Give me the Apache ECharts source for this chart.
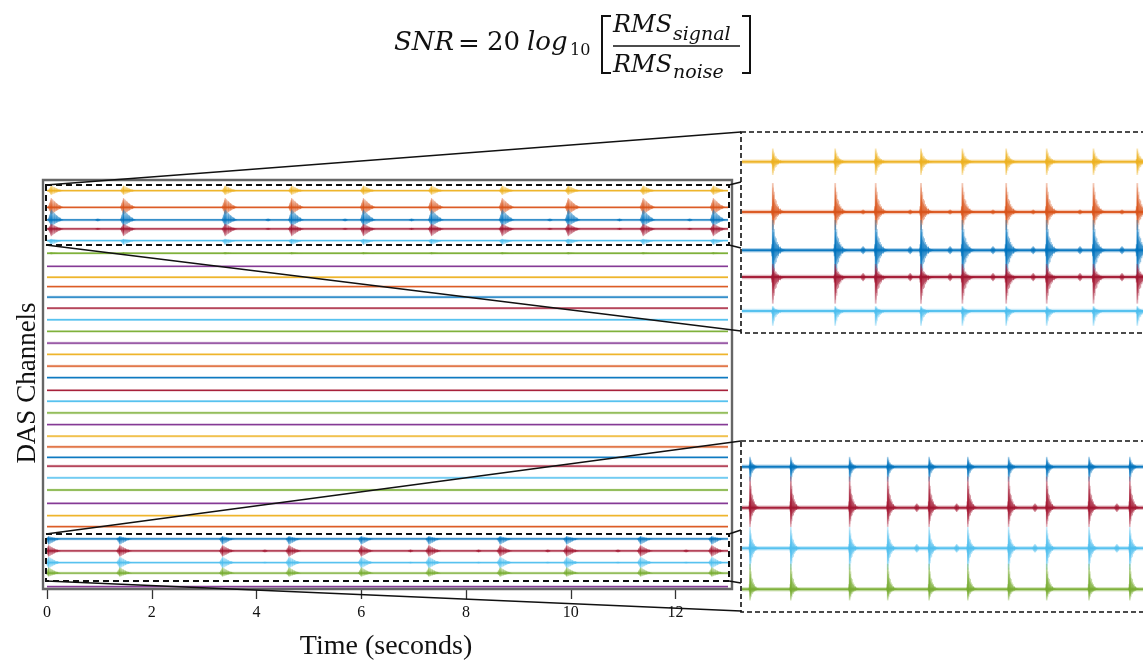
<!DOCTYPE html>
<html><head><meta charset="utf-8">
<script src="https://cdn.jsdelivr.net/npm/echarts@6/dist/echarts.min.js"></script>
<style>html,body{margin:0;padding:0;background:#fff}#c{width:1143px;height:664px}</style>
</head><body><div id="c"></div>
<script>
// ================= DATA =================
// x-axis tick labels (seconds)
const timeTickLabels = [0, 2, 4, 6, 8, 10, 12];
// baseline offset of each of the 35 DAS channels (channel units, top = 0)
const channelOffsets = [0, 1.43, 2.51, 3.28, 4.28, 5.37, 6.49, 7.43, 8.23, 9.14, 10.09, 11.08, 12.08, 13.09,
  14.05, 15.06, 16.05, 17.14, 18.08, 19.08, 20.08, 21.08, 22.0, 22.9, 23.65, 24.65, 25.7, 26.85, 27.9,
  28.84, 29.9, 30.93, 31.93, 32.84, 34.0];
// channels inside the two dashed selections
const topGroupChannels = [0, 1, 2, 3, 4];
const bottomGroupChannels = [30, 31, 32, 33];
// event (burst) onset times in the main panel (s)
const topEventTimes = [0.08, 1.46, 3.40, 4.67, 6.04, 7.34, 8.69, 9.95, 11.38, 12.72];
const bottomEventTimes = [0.03, 1.39, 3.35, 4.62, 6.00, 7.29, 8.65, 9.92, 11.33, 12.69];
// small blips between the events (s)
const topMinorTimes = [0.97, 4.22, 5.69, 6.96, 9.6, 10.93, 12.27];
const bottomMinorTimes = [4.16, 6.94, 8.24, 9.56, 10.9, 12.2];
// burst amplitudes above / below the baseline (channel units), per channel of each group
const topGroupUp = [0.45, 0.8, 0.9, 0.45, 0.15];
const topGroupDown = [0.36, 0.62, 0.55, 0.62, 0.38];
const bottomGroupUp = [0.25, 0.5, 0.5, 0.5];
const bottomGroupDown = [0.5, 0.5, 0.5, 0.3];
const minorAmp = 0.13;
const weakChannel = 5, weakAmp = 0.1;
// zoomed inset (top): trace offsets (inset units), amplitudes and event times
const topInsetOffsets = [0.74, 1.99, 2.94, 3.61, 4.45];
const topInsetUp = [0.33, 0.72, 0.75, 0.33, 0.12];
const topInsetDown = [0.33, 0.45, 0.75, 0.66, 0.37];
const topInsetEventTimes = [0.79, 2.87, 4.22, 5.73, 7.11, 8.57, 9.92, 11.48, 12.94];
const topInsetMinorTimes = [3.8, 5.37, 6.7, 8.13, 9.47, 11.03, 12.43];
// zoomed inset (bottom)
const bottomInsetOffsets = [0.6, 1.56, 2.51, 3.47];
const bottomInsetUp = [0.23, 0.73, 0.5, 0.6];
const bottomInsetDown = [0.35, 0.45, 0.5, 0.26];
const bottomInsetEventTimes = bottomEventTimes;
const bottomInsetMinorTimes = [5.59, 6.92, 9.53, 12.26];
const insetMinorAmp = 0.1;

// ================= STYLE =================
const COLORS = ['#EDB120', '#D95319', '#0072BD', '#A2142F', '#4DBEEE', '#77AC30', '#7E2F8E'];
function rgba(hex, a) { const n = parseInt(hex.slice(1), 16); return 'rgba(' + (n >> 16 & 255) + ',' + (n >> 8 & 255) + ',' + (n & 255) + ',' + a + ')'; }

function baselineSeries(idx, offsets, colorIdx, xr, wMain, wHalo) {
  return {
    type: 'custom', xAxisIndex: idx, yAxisIndex: idx, silent: true, z: 2,
    data: offsets.map((o, i) => [0, o, colorIdx[i]]),
    renderItem: (params, api) => {
      const y = api.value(1), c = COLORS[api.value(2)];
      const a = api.coord([xr[0], y]), b = api.coord([xr[1], y]);
      const sh = { x1: a[0], y1: a[1], x2: b[0], y2: b[1] };
      return { type: 'group', children: [
        { type: 'line', shape: sh, style: { stroke: rgba(c, 0.3), lineWidth: wHalo } },
        { type: 'line', shape: sh, style: { stroke: rgba(c, 0.92), lineWidth: wMain } }
      ] };
    }
  };
}

// burst glyph shapes (style only)
const ENV_INSET = [[-1, 0], [-0.5, 0.1], [-0.12, 0.22], [0, 1], [0.03, 0.5], [0.1, 0.36], [0.25, 0.22], [0.45, 0.12], [0.7, 0.05], [1, 0]];
const HAIRS_INSET = [[-0.4, 0.2], [0.03, 0.85], [0.07, 0.6], [0.12, 0.7], [0.18, 0.45], [0.25, 0.4], [0.33, 0.27], [0.42, 0.2], [0.55, 0.12]];
const ENV_MAIN = [[-1, 0], [-0.6, 0.3], [-0.25, 0.7], [0, 1], [0.12, 0.85], [0.3, 0.6], [0.55, 0.32], [0.8, 0.12], [1, 0]];
const HAIRS_MAIN = [[-0.5, 0.5], [-0.2, 0.8], [0.12, 0.9], [0.28, 0.7], [0.45, 0.45], [0.7, 0.25]];
const ENV_MINOR = [[-1, 0], [-0.6, 0.55], [-0.25, 0.9], [0, 1], [0.25, 0.9], [0.6, 0.55], [1, 0]];
const HAIRS_MINOR = [[-0.4, 0.7], [0.4, 0.7]];

function burstSeries(idx, items, pre, tail, spikeW, z, env, hairs, fillA) {
  return {
    type: 'custom', xAxisIndex: idx, yAxisIndex: idx, silent: true, z: z, data: items,
    renderItem: (params, api) => {
      const t = api.value(0), y = api.value(1), up = api.value(2), dn = api.value(3), c = COLORS[api.value(4)];
      const x0 = api.coord([t - pre, y])[0], xt = api.coord([t, y])[0], x1 = api.coord([t + tail, y])[0];
      const yb = api.coord([t, y])[1], yU = api.coord([t, y - up])[1], yD = api.coord([t, y + dn])[1];
      const hu = yb - yU, hd = yD - yb, w = x1 - xt, wp = xt - x0;
      if (hu + hd <= 0) return null;
      const px = f => f < 0 ? xt + f * wp : xt + f * w;
      const upper = env.map(e => [px(e[0]), yb - e[1] * hu]);
      const lower = env.slice().reverse().map(e => [px(e[0]), yb + e[1] * hd]);
      const s = hu / (hu + hd);
      const grad = (a0, a1) => ({ type: 'linear', x: 0, y: yU, x2: 0, y2: yD, global: true,
        colorStops: [{ offset: 0, color: rgba(c, a0) }, { offset: s, color: rgba(c, a1) }, { offset: 1, color: rgba(c, a0) }] });
      const children = [
        { type: 'polygon', shape: { points: upper.concat(lower) }, style: { fill: grad(fillA[0], fillA[1]) } }
      ];
      hairs.forEach(h => {
        const xx = px(h[0]);
        children.push({ type: 'line', shape: { x1: xx, y1: yb - h[1] * hu, x2: xx, y2: yb + h[1] * hd },
          style: { stroke: grad(0.15, 0.6), lineWidth: Math.max(0.7, spikeW * 0.6) } });
      });
      children.push({ type: 'line', shape: { x1: xt, y1: yU, x2: xt, y2: yD }, style: { stroke: grad(0.3, 0.95), lineWidth: spikeW } });
      return { type: 'group', children: children };
    }
  };
}

function makeItems(times, offsets, ups, downs, colorIdx) {
  const out = [];
  times.forEach(t => offsets.forEach((o, k) => out.push([t, o, ups[k], downs[k], colorIdx[k]])));
  return out;
}

// main panel
const chColor = channelOffsets.map((o, i) => i % 7);
const topOff = topGroupChannels.map(c => channelOffsets[c]);
const topCol = topGroupChannels.map(c => chColor[c]);
const botOff = bottomGroupChannels.map(c => channelOffsets[c]);
const botCol = bottomGroupChannels.map(c => chColor[c]);
const mainItems = makeItems(topEventTimes, topOff, topGroupUp, topGroupDown, topCol)
  .concat(makeItems(bottomEventTimes, botOff, bottomGroupUp, bottomGroupDown, botCol))
  .concat(makeItems(topEventTimes, [channelOffsets[weakChannel]], [weakAmp], [weakAmp], [chColor[weakChannel]]));
const mainMinor = makeItems(topMinorTimes, [topOff[2], topOff[3]], [minorAmp, minorAmp * 0.7], [minorAmp, minorAmp * 0.7], [topCol[2], topCol[3]])
  .concat(makeItems(bottomMinorTimes, [botOff[1], botOff[2]], [minorAmp, minorAmp * 0.6], [minorAmp, minorAmp * 0.6], [botCol[1], botCol[2]]));

// insets
const topInsetCol = [0, 1, 2, 3, 4];
const botInsetCol = [2, 3, 4, 5];
const topInsetItems = makeItems(topInsetEventTimes, topInsetOffsets, topInsetUp, topInsetDown, topInsetCol);
const topInsetMinor = makeItems(topInsetMinorTimes, [topInsetOffsets[1], topInsetOffsets[2], topInsetOffsets[3]],
  [insetMinorAmp * 0.6, insetMinorAmp, insetMinorAmp], [insetMinorAmp * 0.6, insetMinorAmp, insetMinorAmp], [1, 2, 3]);
const botInsetItems = makeItems(bottomInsetEventTimes, bottomInsetOffsets, bottomInsetUp, bottomInsetDown, botInsetCol);
const botInsetMinor = makeItems(bottomInsetMinorTimes, [bottomInsetOffsets[1], bottomInsetOffsets[2]],
  [insetMinorAmp, insetMinorAmp], [insetMinorAmp, insetMinorAmp], [3, 4]);

const MAIN_X = [0, 13], INSET_X = [-0.27, 13.13];
const SERIF = '"Liberation Serif", "DejaVu Serif", serif';
const MATH = '"DejaVu Serif", serif';

const chart = echarts.init(document.getElementById('c'), null, { renderer: 'canvas' });
const blackLine = (x1, y1, x2, y2, w) => ({ type: 'line', z: 60, silent: true, shape: { x1, y1, x2, y2 }, style: { stroke: '#111', lineWidth: w || 1.6 } });
const txt = (text, x, y, font, align) => ({ type: 'text', z: 60, silent: true, x: x, y: y,
  style: { text: text, font: font, fill: '#111', align: align || 'left', verticalAlign: 'middle' } });

chart.setOption({
  animation: false,
  backgroundColor: '#fff',
  grid: [
    { left: 47, top: 180, width: 681, height: 409 },
    { left: 741, top: 132, width: 402, height: 201 },
    { left: 741, top: 441, width: 402, height: 171 }
  ],
  xAxis: [
    { gridIndex: 0, type: 'value', position: 'bottom', min: MAIN_X[0], max: MAIN_X[1], interval: 2,
      axisLine: { show: false, onZero: false }, splitLine: { show: false },
      axisTick: { show: true, length: 10, lineStyle: { color: '#333', width: 1.3 } },
      axisLabel: { margin: 16, fontFamily: SERIF, fontSize: 16, color: '#111', showMaxLabel: false,
        formatter: v => timeTickLabels.indexOf(v) >= 0 ? String(v) : '' } },
    { gridIndex: 1, type: 'value', min: INSET_X[0], max: INSET_X[1], show: false },
    { gridIndex: 2, type: 'value', min: INSET_X[0], max: INSET_X[1], show: false }
  ],
  yAxis: [
    { gridIndex: 0, type: 'value', inverse: true, min: -0.92, max: 34.2, show: false },
    { gridIndex: 1, type: 'value', inverse: true, min: 0, max: 5, show: false },
    { gridIndex: 2, type: 'value', inverse: true, min: 0, max: 4, show: false }
  ],
  series: [
    baselineSeries(0, channelOffsets, chColor, MAIN_X, 1.3, 2.6),
    burstSeries(0, mainMinor, 0.06, 0.06, 1, 3, ENV_MINOR, HAIRS_MINOR, [0.2, 0.6]),
    burstSeries(0, mainItems, 0.07, 0.24, 1.2, 4, ENV_MAIN, HAIRS_MAIN, [0.18, 0.7]),
    baselineSeries(1, topInsetOffsets, topInsetCol, [INSET_X[0] + 0.03, INSET_X[1]], 2, 4.5),
    burstSeries(1, topInsetMinor, 0.1, 0.1, 1.2, 3, ENV_MINOR, HAIRS_MINOR, [0.2, 0.6]),
    burstSeries(1, topInsetItems, 0.08, 0.45, 1.8, 4, ENV_INSET, HAIRS_INSET, [0.08, 0.6]),
    baselineSeries(2, bottomInsetOffsets, botInsetCol, [INSET_X[0] + 0.03, INSET_X[1]], 2, 4.5),
    burstSeries(2, botInsetMinor, 0.1, 0.1, 1.2, 3, ENV_MINOR, HAIRS_MINOR, [0.2, 0.6]),
    burstSeries(2, botInsetItems, 0.06, 0.35, 1.6, 4, ENV_INSET, HAIRS_INSET, [0.08, 0.6])
  ],
  graphic: [
    // main frame
    { type: 'rect', z: 50, silent: true, shape: { x: 43, y: 180, width: 689, height: 409 }, style: { fill: 'none', stroke: '#666', lineWidth: 2.4 } },
    // dashed selections
    { type: 'rect', z: 55, silent: true, shape: { x: 46, y: 185, width: 683, height: 60 }, style: { fill: 'none', stroke: '#111', lineWidth: 2, lineDash: [6, 4] } },
    { type: 'rect', z: 55, silent: true, shape: { x: 46, y: 534, width: 683, height: 47 }, style: { fill: 'none', stroke: '#111', lineWidth: 2, lineDash: [6, 4] } },
    // inset frames
    { type: 'rect', z: 55, silent: true, shape: { x: 741, y: 132, width: 420, height: 201 }, style: { fill: 'none', stroke: '#111', lineWidth: 1.6, lineDash: [5, 3] } },
    { type: 'rect', z: 55, silent: true, shape: { x: 741, y: 441, width: 420, height: 171 }, style: { fill: 'none', stroke: '#111', lineWidth: 1.6, lineDash: [5, 3] } },
    // connectors
    blackLine(46, 185, 741, 132), blackLine(46, 245, 741, 331),
    blackLine(729, 185, 741, 182), blackLine(729, 245, 741, 248),
    blackLine(46, 534, 741, 441), blackLine(46, 581, 741, 611),
    blackLine(729, 534, 741, 530), blackLine(729, 581, 741, 583),
    // axis titles
    txt('Time (seconds)', 386, 647, '28px ' + SERIF, 'center'),
    { type: 'text', z: 60, silent: true, x: 28, y: 383, rotation: Math.PI / 2,
      style: { text: 'DAS Channels', font: '27px ' + SERIF, fill: '#111', align: 'center', verticalAlign: 'middle' } },
    // formula
    txt('SNR', 394, 43, 'italic 26px ' + MATH),
    txt('=', 458, 45, '26px ' + MATH),
    txt('20', 487, 43, '26px ' + MATH),
    txt('log', 527, 43, 'italic 26px ' + MATH),
    txt('10', 570, 51, '16px ' + MATH),
    txt('RMS', 613, 26, 'italic 24px ' + MATH),
    txt('signal', 673, 35, 'italic 19px ' + MATH),
    txt('RMS', 613, 66, 'italic 24px ' + MATH),
    txt('noise', 673, 73, 'italic 19px ' + MATH),
    blackLine(613, 46, 740, 46, 1.6),
    { type: 'polyline', z: 60, silent: true, shape: { points: [[611, 16], [602, 16], [602, 73], [611, 73]] }, style: { stroke: '#111', lineWidth: 2, fill: 'none' } },
    { type: 'polyline', z: 60, silent: true, shape: { points: [[742, 16], [750, 16], [750, 73], [742, 73]] }, style: { stroke: '#111', lineWidth: 2, fill: 'none' } }
  ]
});
</script></body></html>
